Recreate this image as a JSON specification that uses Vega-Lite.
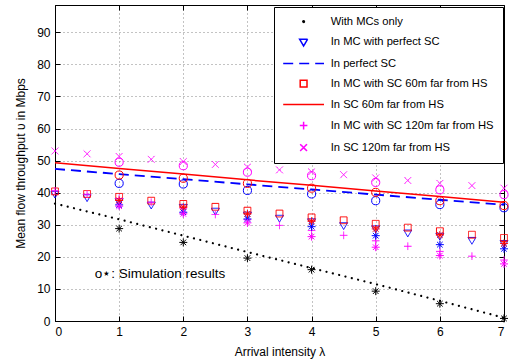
{
  "$schema": "https://vega.github.io/schema/vega-lite/v6.json",
  "width": 449,
  "height": 316,
  "autosize": {"type": "none"},
  "padding": {"left": 55, "top": 5, "right": 10, "bottom": 42},
  "background": "white",
  "config": {
    "font": "Liberation Sans",
    "view": {"stroke": "black", "strokeWidth": 1},
    "axis": {
      "domainColor": "black", "domainWidth": 1,
      "tickColor": "black", "tickWidth": 1,
      "labelColor": "black", "titleColor": "black",
      "labelFont": "Liberation Sans", "titleFont": "Liberation Sans",
      "labelFontSize": 12, "titleFontSize": 12, "titleFontWeight": "normal",
      "gridColor": "#000000", "gridDash": [1, 3], "gridOpacity": 0.6, "gridWidth": 0.8
    },
    "legend": {
      "orient": "none", "legendX": 219, "legendY": 2,
      "fillColor": "white", "strokeColor": "black", "strokeWidth": 1,
      "padding": 9, "labelFont": "Liberation Sans", "labelFontSize": 11.2, "labelColor": "black",
      "labelLimit": 400, "symbolStrokeWidth": 1.5, "symbolSize": 64,
      "symbolOffset": 15, "labelOffset": 21.5, "rowPadding": 8
    }
  },
  "datasets": {
    "analytic": [
      {"series": "In MC with perfect SC", "x": 0, "y": 39.7},
      {"series": "In MC with perfect SC", "x": 0.5, "y": 38.6},
      {"series": "In MC with perfect SC", "x": 1, "y": 37.4},
      {"series": "In MC with perfect SC", "x": 1.5, "y": 36.3},
      {"series": "In MC with perfect SC", "x": 2, "y": 35.6},
      {"series": "In MC with perfect SC", "x": 2.5, "y": 34.4},
      {"series": "In MC with perfect SC", "x": 3, "y": 33.2},
      {"series": "In MC with perfect SC", "x": 3.5, "y": 32.2},
      {"series": "In MC with perfect SC", "x": 4, "y": 31.1},
      {"series": "In MC with perfect SC", "x": 4.5, "y": 29.9},
      {"series": "In MC with perfect SC", "x": 5, "y": 28.9},
      {"series": "In MC with perfect SC", "x": 5.5, "y": 27.6},
      {"series": "In MC with perfect SC", "x": 6, "y": 26.6},
      {"series": "In MC with perfect SC", "x": 6.5, "y": 25.3},
      {"series": "In MC with perfect SC", "x": 7, "y": 24.3},
      {"series": "In MC with SC 60m far from HS", "x": 0, "y": 40.4},
      {"series": "In MC with SC 60m far from HS", "x": 0.5, "y": 39.6},
      {"series": "In MC with SC 60m far from HS", "x": 1, "y": 38.7},
      {"series": "In MC with SC 60m far from HS", "x": 1.5, "y": 37.5},
      {"series": "In MC with SC 60m far from HS", "x": 2, "y": 36.5},
      {"series": "In MC with SC 60m far from HS", "x": 2.5, "y": 35.6},
      {"series": "In MC with SC 60m far from HS", "x": 3, "y": 34.4},
      {"series": "In MC with SC 60m far from HS", "x": 3.5, "y": 33.5},
      {"series": "In MC with SC 60m far from HS", "x": 4, "y": 32.3},
      {"series": "In MC with SC 60m far from HS", "x": 4.5, "y": 31.4},
      {"series": "In MC with SC 60m far from HS", "x": 5, "y": 30.3},
      {"series": "In MC with SC 60m far from HS", "x": 5.5, "y": 29.1},
      {"series": "In MC with SC 60m far from HS", "x": 6, "y": 28.0},
      {"series": "In MC with SC 60m far from HS", "x": 6.5, "y": 26.9},
      {"series": "In MC with SC 60m far from HS", "x": 7, "y": 25.9},
      {"series": "In MC with SC 120m far from HS", "x": 0, "y": 40.6},
      {"series": "In MC with SC 120m far from HS", "x": 0.5, "y": 39.5},
      {"series": "In MC with SC 120m far from HS", "x": 1, "y": 38.2},
      {"series": "In MC with SC 120m far from HS", "x": 1.5, "y": 37.0},
      {"series": "In MC with SC 120m far from HS", "x": 2, "y": 35.1},
      {"series": "In MC with SC 120m far from HS", "x": 2.5, "y": 33.2},
      {"series": "In MC with SC 120m far from HS", "x": 3, "y": 31.6},
      {"series": "In MC with SC 120m far from HS", "x": 3.5, "y": 29.8},
      {"series": "In MC with SC 120m far from HS", "x": 4, "y": 28.2},
      {"series": "In MC with SC 120m far from HS", "x": 4.5, "y": 26.7},
      {"series": "In MC with SC 120m far from HS", "x": 5, "y": 25.0},
      {"series": "In MC with SC 120m far from HS", "x": 5.5, "y": 23.3},
      {"series": "In MC with SC 120m far from HS", "x": 6, "y": 21.7},
      {"series": "In MC with SC 120m far from HS", "x": 6.5, "y": 20.2},
      {"series": "In MC with SC 120m far from HS", "x": 7, "y": 19.0},
      {"series": "In SC 120m far from HS", "x": 0, "y": 53.0},
      {"series": "In SC 120m far from HS", "x": 0.5, "y": 52.1},
      {"series": "In SC 120m far from HS", "x": 1, "y": 51.3},
      {"series": "In SC 120m far from HS", "x": 1.5, "y": 50.4},
      {"series": "In SC 120m far from HS", "x": 2, "y": 49.7},
      {"series": "In SC 120m far from HS", "x": 2.5, "y": 48.8},
      {"series": "In SC 120m far from HS", "x": 3, "y": 48.0},
      {"series": "In SC 120m far from HS", "x": 3.5, "y": 47.1},
      {"series": "In SC 120m far from HS", "x": 4, "y": 46.5},
      {"series": "In SC 120m far from HS", "x": 4.5, "y": 45.6},
      {"series": "In SC 120m far from HS", "x": 5, "y": 44.6},
      {"series": "In SC 120m far from HS", "x": 5.5, "y": 43.8},
      {"series": "In SC 120m far from HS", "x": 6, "y": 42.9},
      {"series": "In SC 120m far from HS", "x": 6.5, "y": 42.2},
      {"series": "In SC 120m far from HS", "x": 7, "y": 41.4}
    ],
    "lines": [
      {"series": "60m", "x": 0, "y": 49.3}, {"series": "60m", "x": 1, "y": 47.5},
      {"series": "60m", "x": 2, "y": 45.8}, {"series": "60m", "x": 3, "y": 44.0},
      {"series": "60m", "x": 4, "y": 42.3}, {"series": "60m", "x": 5, "y": 40.5},
      {"series": "60m", "x": 6, "y": 38.8}, {"series": "60m", "x": 7, "y": 37.0},
      {"series": "perfect", "x": 0, "y": 47.4}, {"series": "perfect", "x": 1, "y": 45.8},
      {"series": "perfect", "x": 2, "y": 44.2}, {"series": "perfect", "x": 3, "y": 42.6},
      {"series": "perfect", "x": 4, "y": 41.0}, {"series": "perfect", "x": 5, "y": 39.4},
      {"series": "perfect", "x": 6, "y": 37.8}, {"series": "perfect", "x": 7, "y": 36.2},
      {"series": "mconly", "x": 0, "y": 36.6}, {"series": "mconly", "x": 1, "y": 31.7},
      {"series": "mconly", "x": 2, "y": 26.6}, {"series": "mconly", "x": 3, "y": 21.5},
      {"series": "mconly", "x": 4, "y": 16.5}, {"series": "mconly", "x": 5, "y": 11.5},
      {"series": "mconly", "x": 6, "y": 6.3}, {"series": "mconly", "x": 7, "y": 1.0}
    ],
    "simSC": [
      {"g": "perfect", "x": 1, "y": 42.9}, {"g": "perfect", "x": 2, "y": 42.7},
      {"g": "perfect", "x": 3, "y": 40.7}, {"g": "perfect", "x": 4, "y": 39.6},
      {"g": "perfect", "x": 5, "y": 37.5}, {"g": "perfect", "x": 6, "y": 36.3},
      {"g": "perfect", "x": 7, "y": 35.3},
      {"g": "60m", "x": 1, "y": 45.5}, {"g": "60m", "x": 2, "y": 44.5},
      {"g": "60m", "x": 3, "y": 42.9}, {"g": "60m", "x": 4, "y": 41.4},
      {"g": "60m", "x": 5, "y": 40.1}, {"g": "60m", "x": 6, "y": 37.5},
      {"g": "60m", "x": 7, "y": 36.0},
      {"g": "120m", "x": 1, "y": 49.5}, {"g": "120m", "x": 2, "y": 48.4},
      {"g": "120m", "x": 3, "y": 46.4}, {"g": "120m", "x": 4, "y": 45.3},
      {"g": "120m", "x": 5, "y": 43.2}, {"g": "120m", "x": 6, "y": 40.9},
      {"g": "120m", "x": 7, "y": 39.4}
    ],
    "simMC": [
      {"g": "perfect", "x": 1, "y": 36.2}, {"g": "perfect", "x": 2, "y": 33.9},
      {"g": "perfect", "x": 3, "y": 31.8}, {"g": "perfect", "x": 4, "y": 29.4},
      {"g": "perfect", "x": 5, "y": 26.6}, {"g": "perfect", "x": 6, "y": 23.8},
      {"g": "perfect", "x": 7, "y": 22.5},
      {"g": "60m", "x": 1, "y": 37.6}, {"g": "60m", "x": 2, "y": 35.5},
      {"g": "60m", "x": 3, "y": 33.4}, {"g": "60m", "x": 4, "y": 31.1},
      {"g": "60m", "x": 5, "y": 28.7}, {"g": "60m", "x": 6, "y": 26.8},
      {"g": "60m", "x": 7, "y": 24.2},
      {"g": "120m", "x": 1, "y": 35.8}, {"g": "120m", "x": 2, "y": 33.4},
      {"g": "120m", "x": 3, "y": 30.6}, {"g": "120m", "x": 4, "y": 26.3},
      {"g": "120m", "x": 5, "y": 23.0}, {"g": "120m", "x": 6, "y": 20.4},
      {"g": "120m", "x": 7, "y": 17.8},
      {"g": "none", "x": 1, "y": 28.8}, {"g": "none", "x": 2, "y": 24.5},
      {"g": "none", "x": 3, "y": 19.6}, {"g": "none", "x": 4, "y": 16.0},
      {"g": "none", "x": 5, "y": 9.3}, {"g": "none", "x": 6, "y": 5.4},
      {"g": "none", "x": 7, "y": 0.8}
    ],
    "note": [{"x": 0.62, "y": 14.7, "label": "o⋆: Simulation results"}]
  },
  "encoding": {
    "x": {"field": "x", "type": "quantitative", "scale": {"domain": [0, 7], "nice": false, "zero": false}, "axis": null},
    "y": {"field": "y", "type": "quantitative", "scale": {"domain": [0, 98.5], "nice": false, "zero": false}, "axis": null}
  },
  "layer": [
    {
      "data": {"name": "lines"},
      "transform": [{"filter": "datum.series === '60m'"}],
      "mark": {"type": "line", "color": "#ff0000", "strokeWidth": 1.5},
      "encoding": {
        "x": {"field": "x", "type": "quantitative", "scale": {"domain": [0, 7], "nice": false, "zero": false},
          "axis": {"values": [0, 1, 2, 3, 4, 5, 6, 7], "grid": true, "tickSize": -5, "labelPadding": 10, "title": "Arrival intensity λ", "titlePadding": 9}},
        "y": {"field": "y", "type": "quantitative", "scale": {"domain": [0, 98.5], "nice": false, "zero": false},
          "axis": {"values": [0, 10, 20, 30, 40, 50, 60, 70, 80, 90], "grid": true, "tickSize": -5, "labelPadding": 10, "title": "Mean flow throughput υ in Mbps", "titleX": -28, "titleBaseline": "bottom"}}
      }
    },
    {
      "data": {"name": "lines"},
      "transform": [{"filter": "datum.series === 'perfect'"}],
      "mark": {"type": "line", "color": "#0000ff", "strokeWidth": 1.8, "strokeDash": [10, 6]},
      "encoding": {
        "x": {"field": "x", "type": "quantitative", "scale": {"domain": [0, 7], "nice": false, "zero": false},
          "axis": {"orient": "top", "values": [0, 1, 2, 3, 4, 5, 6, 7], "grid": false, "labels": false, "domain": false, "tickSize": -5, "title": null}},
        "y": {"field": "y", "type": "quantitative", "scale": {"domain": [0, 98.5], "nice": false, "zero": false},
          "axis": {"orient": "right", "values": [0, 10, 20, 30, 40, 50, 60, 70, 80, 90], "grid": false, "labels": false, "domain": false, "tickSize": -5, "title": null}}
      }
    },
    {
      "data": {"name": "lines"},
      "transform": [{"filter": "datum.series === 'mconly'"}],
      "mark": {"type": "line", "color": "#000000", "strokeWidth": 2.2, "strokeDash": [0.01, 6.5], "strokeCap": "round"}
    },
    {
      "data": {"name": "analytic"},
      "mark": {"type": "point", "filled": false, "size": 64, "strokeWidth": 1, "opacity": 1},
      "encoding": {
        "color": {"field": "series", "type": "nominal",
          "scale": {"domain": ["With MCs only", "In MC with perfect SC", "In perfect SC", "In MC with SC 60m far from HS", "In SC 60m far from HS", "In MC with SC 120m far from HS", "In SC 120m far from HS"],
            "range": ["#000000", "#0000ff", "#0000ff", "#ff0000", "#ff0000", "#ff00ff", "#ff00ff"]},
          "legend": {"title": null}},
        "shape": {"field": "series", "type": "nominal",
          "scale": {"domain": ["With MCs only", "In MC with perfect SC", "In perfect SC", "In MC with SC 60m far from HS", "In SC 60m far from HS", "In MC with SC 120m far from HS", "In SC 120m far from HS"],
            "range": ["M-0.2,0A0.2,0.2 0 1,0 0.2,0A0.2,0.2 0 1,0 -0.2,0Z", "M-1,-0.6H1L0,1.1Z", "M-5.1,0H5.1", "M-0.85,-0.85H0.85V0.85H-0.85Z", "M-5.1,0H5.1", "M-0.95,0H0.95M0,-0.95V0.95", "M-0.85,-0.85L0.85,0.85M-0.85,0.85L0.85,-0.85"]},
          "legend": {"title": null}},
        "strokeDash": {"field": "series", "type": "nominal",
          "scale": {"domain": ["With MCs only", "In MC with perfect SC", "In perfect SC", "In MC with SC 60m far from HS", "In SC 60m far from HS", "In MC with SC 120m far from HS", "In SC 120m far from HS"],
            "range": [[1, 0], [1, 0], [10, 6], [1, 0], [1, 0], [1, 0], [1, 0]]},
          "legend": {"title": null}}
      }
    },
    {
      "data": {"name": "simSC"},
      "mark": {"type": "point", "shape": "circle", "filled": false, "size": 66, "strokeWidth": 1, "opacity": 1},
      "encoding": {
        "stroke": {"field": "g", "type": "nominal",
          "scale": {"domain": ["perfect", "60m", "120m", "none"], "range": ["#0000ff", "#ff0000", "#ff00ff", "#000000"]},
          "legend": null}
      }
    },
    {
      "data": {"name": "simMC"},
      "mark": {"type": "point", "shape": "M-1,0H1M0,-1V1M-0.7,-0.7L0.7,0.7M-0.7,0.7L0.7,-0.7", "filled": false, "size": 64, "strokeWidth": 1, "opacity": 1},
      "encoding": {
        "stroke": {"field": "g", "type": "nominal",
          "scale": {"domain": ["perfect", "60m", "120m", "none"], "range": ["#0000ff", "#ff0000", "#ff00ff", "#000000"]},
          "legend": null}
      }
    },
    {
      "data": {"name": "note"},
      "mark": {"type": "text", "align": "left", "baseline": "middle", "fontSize": 13.5, "font": "Liberation Sans", "color": "black"},
      "encoding": {"text": {"field": "label"}}
    }
  ],
  "resolve": {"axis": {"x": "independent", "y": "independent"}}
}
